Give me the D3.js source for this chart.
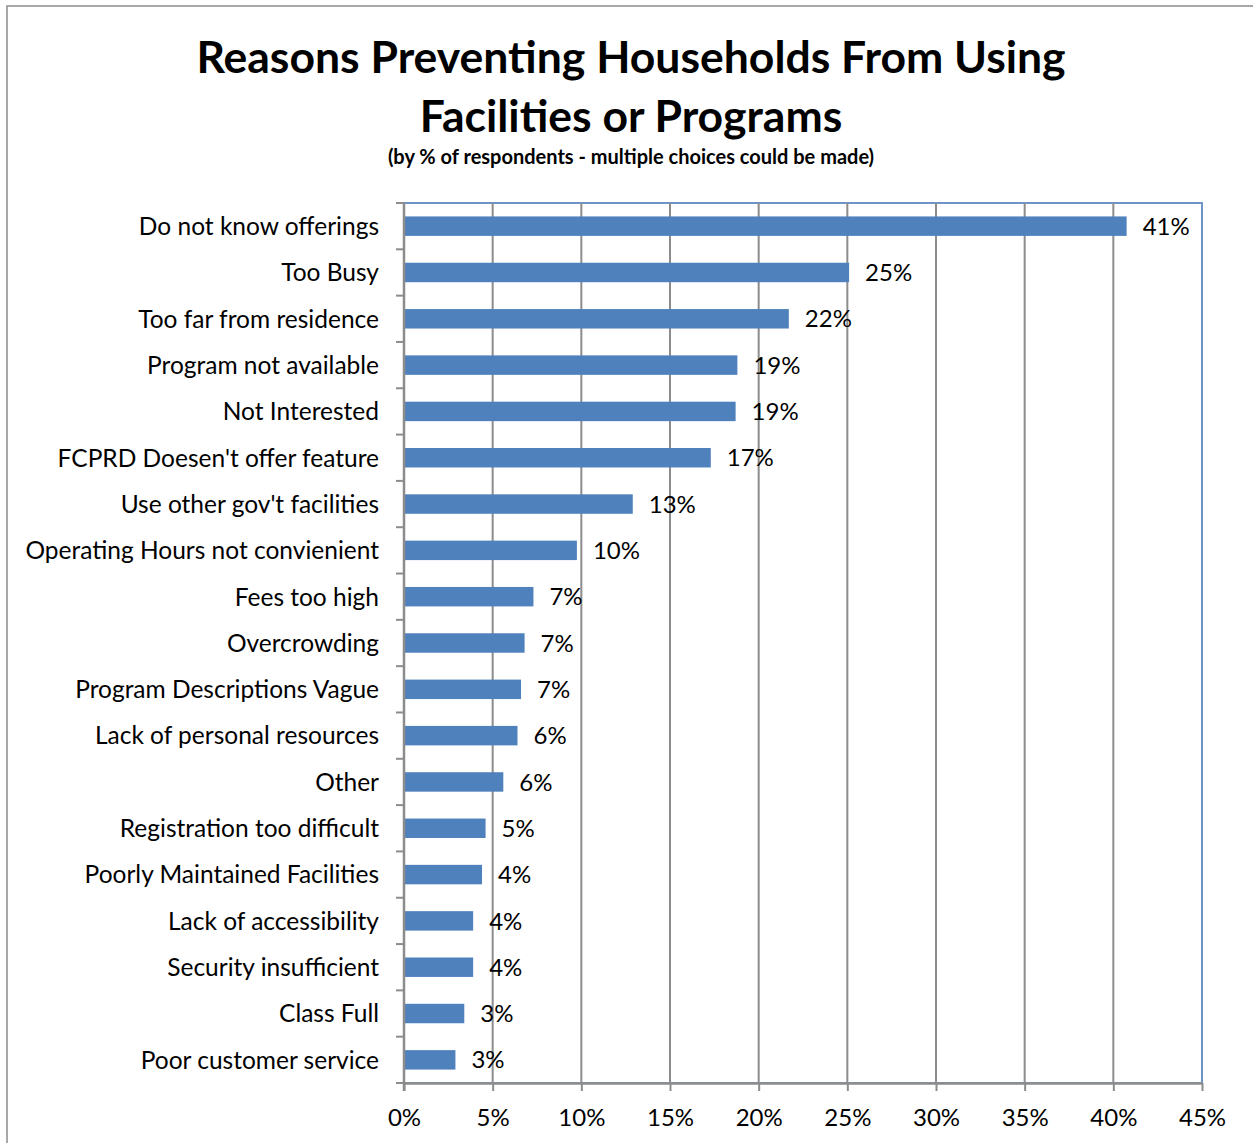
<!DOCTYPE html>
<html>
<head>
<meta charset="utf-8">
<script src="https://cdn.jsdelivr.net/npm/d3@7"></script>
<style>
  html, body { margin: 0; padding: 0; background: #fff; }
  svg { display: block; }
  text { font-family: Lato, "Open Sans", sans-serif; fill: #000; }
</style>
</head>
<body>
<svg id="chart" width="1253" height="1143"></svg>
<script>
const categories = [
  "Do not know offerings",
  "Too Busy",
  "Too far from residence",
  "Program not available",
  "Not Interested",
  "FCPRD Doesen't offer feature",
  "Use other gov't facilities",
  "Operating Hours not convienient",
  "Fees too high",
  "Overcrowding",
  "Program Descriptions Vague",
  "Lack of personal resources",
  "Other",
  "Registration too difficult",
  "Poorly Maintained Facilities",
  "Lack of accessibility",
  "Security insufficient",
  "Class Full",
  "Poor customer service"
];
const values = [0.4075, 0.251, 0.217, 0.188, 0.187, 0.173, 0.129, 0.0975, 0.073, 0.068, 0.066, 0.064, 0.056, 0.046, 0.044, 0.039, 0.039, 0.034, 0.029];
const tickValues = [0, 0.05, 0.10, 0.15, 0.20, 0.25, 0.30, 0.35, 0.40, 0.45];
const titleLines = ["Reasons Preventing Households From Using", "Facilities or Programs"];
const subtitle = "(by % of respondents - multiple choices could be made)";

const svg = d3.select("#chart");
const W = 1253, H = 1143;
const plot = { left: 404, right: 1202, top: 203, bottom: 1083 };

// outer frame
svg.append("rect").attr("x", 7).attr("y", 6).attr("width", W + 10).attr("height", H + 10)
  .attr("fill", "#fff").attr("stroke", "#8c8c8c").attr("stroke-width", 1.5);

const x = d3.scaleLinear().domain([0, 0.45]).range([plot.left, plot.right]);
const y = d3.scaleBand().domain(categories).range([plot.top, plot.bottom]).paddingInner(0.58).paddingOuter(0.29);
const yOuter = d3.scaleBand().domain(categories).range([plot.top, plot.bottom]);

// plot area border (top/right blue)
svg.append("rect").attr("x", plot.left).attr("y", plot.top)
  .attr("width", plot.right - plot.left).attr("height", plot.bottom - plot.top)
  .attr("fill", "none").attr("stroke", "#6f95c8").attr("stroke-width", 2);

// gridlines
svg.append("g").selectAll("line").data(tickValues.slice(1, -1)).join("line")
  .attr("x1", d => x(d)).attr("x2", d => x(d))
  .attr("y1", plot.top).attr("y2", plot.bottom)
  .attr("stroke", "#8c8c8c").attr("stroke-width", 2);

// bars
svg.append("g").selectAll("rect").data(values).join("rect")
  .attr("x", x(0))
  .attr("y", (d, i) => y(categories[i]))
  .attr("width", d => x(d) - x(0))
  .attr("height", y.bandwidth())
  .attr("fill", "#4f81bd");

// value labels
const fmt = d3.format(".0%");
svg.append("g").selectAll("text").data(values).join("text")
  .attr("x", d => x(d) + 16)
  .attr("y", (d, i) => y(categories[i]) + y.bandwidth() / 2)
  .attr("dy", "0.36em")
  .attr("font-size", 24)
  .text(d => fmt(d));

// x axis
const xAxis = d3.axisBottom(x).tickValues(tickValues).tickFormat(d3.format(".0%")).tickSize(8).tickSizeOuter(0);
const gx = svg.append("g").attr("transform", `translate(0,${plot.bottom})`).call(xAxis);
gx.select(".domain").attr("stroke", "#8c8c8c").attr("stroke-width", 2.5);
gx.selectAll(".tick line").attr("stroke", "#8c8c8c").attr("stroke-width", 2);
gx.selectAll(".tick text").attr("font-size", 24).attr("font-family", "Lato, 'Open Sans', sans-serif")
  .attr("fill", "#000").attr("y", 26).attr("dy", "0.71em");

// y axis
const gy = svg.append("g").attr("transform", `translate(${plot.left},0)`);
gy.append("line").attr("x1", 0).attr("x2", 0).attr("y1", plot.top).attr("y2", plot.bottom + 8)
  .attr("stroke", "#8c8c8c").attr("stroke-width", 2.5);
const boundaries = categories.map(c => yOuter(c)).concat([plot.bottom]);
gy.selectAll("line.tk").data(boundaries).join("line").attr("class", "tk")
  .attr("x1", -8).attr("x2", 0).attr("y1", d => d).attr("y2", d => d)
  .attr("stroke", "#8c8c8c").attr("stroke-width", 2);
gy.selectAll("text").data(categories).join("text")
  .attr("x", -25)
  .attr("y", d => yOuter(d) + yOuter.bandwidth() / 2)
  .attr("dy", "0.36em")
  .attr("text-anchor", "end")
  .attr("font-size", 24.5)
  .text(d => d);

// titles
svg.append("g").selectAll("text").data(titleLines).join("text")
  .attr("x", 631).attr("y", (d, i) => 73 + i * 59)
  .attr("text-anchor", "middle").attr("font-size", 44.5).attr("font-weight", "bold")
  .text(d => d);
svg.append("text").attr("x", 631).attr("y", 164).attr("text-anchor", "middle")
  .attr("font-size", 20).attr("font-weight", "bold").text(subtitle);
</script>
</body>
</html>
